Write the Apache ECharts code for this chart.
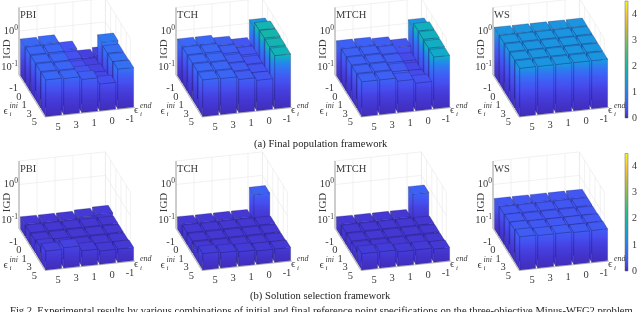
<!DOCTYPE html>
<html><head><meta charset="utf-8">
<style>html,body{margin:0;padding:0;background:#fff}#c{width:640px;height:312px}</style>
<script src="https://cdn.jsdelivr.net/npm/echarts@6/dist/echarts.min.js"></script>
</head><body><div id="c"></div>
<script>
// rows: ini = -1,0,1,3,5 (back to front); columns: end = 5,3,1,0,-1 (left to right)
const iniTicks = ['-1','0','1','3','5'];
const endTicks = ['5','3','1','0','-1'];
const methods = ['PBI','TCH','MTCH','WS'];
const captionA = '(a) Final population framework';
const captionB = '(b) Solution selection framework';
const captionFig = 'Fig 2. Experimental results by various combinations of initial and final reference point specifications on the three-objective Minus-WFG2 problem.';

const PBI_final = [
 [.62,.64,.38,.20,.22],
 [.62,.62,.35,.20,.85],
 [.62,.60,.33,.23,.72],
 [.62,.60,.40,.25,.72],
 [.62,.60,.50,.33,.76]];
const TCH_final = [
 [.62,.62,.52,.42,1.3],
 [.62,.62,.52,.42,1.85],
 [.62,.60,.50,.40,1.9],
 [.62,.60,.50,.40,1.85],
 [.62,.60,.50,.42,1.8]];
const MTCH_final = [
 [.55,.55,.50,.40,1.3],
 [.55,.55,.50,.28,1.75],
 [.55,.55,.50,.26,1.75],
 [.55,.55,.48,.28,1.7],
 [.55,.55,.45,.35,1.65]];
const WS_final = [
 [1.3,1.3,1.3,1.3,1.3],
 [1.3,1.3,1.3,1.3,1.3],
 [1.3,1.3,1.3,1.3,1.3],
 [1.3,1.3,1.3,1.3,1.3],
 [1.3,1.3,1.3,1.3,1.3]];
const PBI_select = [
 [.13,.13,.13,.14,.15],
 [.13,.13,.13,.13,.13],
 [.13,.13,.13,.13,.13],
 [.15,.14,.13,.13,.13],
 [.20,.22,.16,.14,.14]];
const TCH_select = [
 [.13,.13,.13,.13,.53],
 [.13,.13,.13,.13,.13],
 [.13,.13,.13,.13,.13],
 [.13,.13,.13,.13,.13],
 [.17,.16,.15,.14,.14]];
const MTCH_select = [
 [.13,.13,.13,.13,.55],
 [.13,.13,.13,.13,.13],
 [.13,.13,.13,.13,.13],
 [.13,.13,.13,.13,.13],
 [.17,.17,.15,.15,.14]];
const WS_select = [
 [.42,.42,.42,.42,.42],
 [.42,.42,.42,.42,.42],
 [.44,.42,.42,.42,.42],
 [.46,.44,.44,.44,.44],
 [.50,.48,.48,.46,.46]];
const tables = [PBI_final,TCH_final,MTCH_final,WS_final,PBI_select,TCH_select,MTCH_select,WS_select];

// parula anchor colours sampled along the colour bar
const parulaAt = [0,.03,.07,.14,.25,.36,.44,.55,.65,.75,.875,1];
const parula = [[62,38,168],[68,56,212],[70,78,240],[58,104,245],[34,138,235],[16,170,205],[22,186,160],[70,190,125],[130,190,90],[190,188,60],[250,195,50],[249,251,21]];
const VMAX = 4.5, Z0 = 0.06;
function col(v){
  const t = Math.max(0,Math.min(1,v/VMAX));
  let i=0; while(i<parula.length-2 && t>parulaAt[i+1]) i++;
  const f=(t-parulaAt[i])/(parulaAt[i+1]-parulaAt[i]);
  const a = parula[i], b = parula[i+1];
  return 'rgb('+a.map((x,k)=>Math.round(x+(b[k]-x)*f)).join(',')+')';
}
// oblique view of the box
const ORIGIN=[19,75], EX=[18,-1.9], EY=[5.2,8.4], DEC=36;
function proj(r,c,v){
  const h = (Math.log10(v)-Math.log10(Z0))*DEC;
  return [ORIGIN[0]+c*EX[0]+r*EY[0], ORIGIN[1]+c*EX[1]+r*EY[1]-h];
}
const PX=[0,157,316,474], PY=[0,153.5];
const FONT='Liberation Serif';
const INK='#3a3a3a';

function barItem(params, api){
  const r=api.value(0), c=api.value(1), v=api.value(2);
  const S=(a,b,z)=>api.coord(proj(a,b,z));
  const r0=r+.06,r1=r+.94,c0=c+.06,c1=c+.94;
  const grad=(y0,y1)=>{
    const stops=[];
    for(let i=0;i<=12;i++){const t=i/12;stops.push({offset:t,color:col(Z0*Math.pow(v/Z0,t))});}
    return new echarts.graphic.LinearGradient(0,y0,0,y1,stops,true);
  };
  const edge={stroke:'rgba(25,25,80,.42)',lineWidth:.6};
  const poly=(pts,fill)=>({type:'polygon',shape:{points:pts},style:Object.assign({fill},edge)});
  const a=S(r0,c0,Z0),b=S(r1,c0,Z0),d=S(r1,c1,Z0);
  const at=S(r0,c0,v),bt=S(r1,c0,v),dt=S(r1,c1,v),et=S(r0,c1,v);
  return {type:'group',children:[
    poly([a,b,bt,at],grad(b[1],bt[1])),
    poly([b,d,dt,bt],grad(b[1],bt[1])),
    poly([at,bt,dt,et],col(v))
  ]};
}

function frameItem(name){
  return function(params, api){
    const S=(a,b,z)=>api.coord(proj(a,b,z));
    const ch=[];
    const ln=(p,q,color,w)=>ch.push({type:'line',shape:{x1:p[0],y1:p[1],x2:q[0],y2:q[1]},style:{stroke:color,lineWidth:w||.6}});
    const txt=(p,dx,dy,t,o)=>ch.push({type:'text',style:Object.assign({x:p[0]+dx,y:p[1]+dy,text:t,font:'10.5px "'+FONT+'"',fill:INK,align:'center',verticalAlign:'middle'},o||{})});
    const G='#e8e8e8', ZT=VMAX, CM=4.8, RM=4.8;
    // back wall and right wall grid
    [0,1,2,3,4,CM].forEach(c=>ln(S(0,c,Z0),S(0,c,ZT),G));
    [0,1,2,3,4,RM].forEach(r=>ln(S(r,CM,Z0),S(r,CM,ZT),G));
    [.1,1,ZT].forEach(z=>{ln(S(0,0,z),S(0,CM,z),G);ln(S(0,CM,z),S(RM,CM,z),G);});
    // floor edges and vertical axis
    ln(S(0,0,Z0),S(0,0,ZT),'#8a8a8a',.8);
    ln(S(0,0,Z0),S(5,0,Z0),'#999',.7);
    ln(S(5,0,Z0),S(5,5,Z0),'#999',.7);
    // z ticks
    const rich={a:{font:'10.5px "'+FONT+'"',fill:INK},b:{font:'7.5px "'+FONT+'"',fill:INK,verticalAlign:'top',padding:[0,0,6,0]}};
    const t0=S(0,0,1), t1=S(0,0,.1);
    ch.push({type:'text',style:{x:t0[0]-1,y:t0[1],text:'{a|10}{b|0}',align:'right',verticalAlign:'middle',rich}});
    ch.push({type:'text',style:{x:t1[0]-1,y:t1[1],text:'{a|10}{b|-1}',align:'right',verticalAlign:'middle',rich}});
    const o=S(0,0,Z0);
    ch.push({type:'text',x:o[0]-12,y:o[1]-26,rotation:Math.PI/2,style:{x:0,y:0,text:'IGD',font:'11px "'+FONT+'"',fill:INK,align:'center',verticalAlign:'middle'}});
    txt(S(0,0,ZT),1,8,name,{align:'left'});
    // category ticks
    iniTicks.forEach((t,r)=>txt(S(r+.5,0,Z0),-8,9.5,t));
    endTicks.forEach((t,c)=>txt(S(5,c+.5,Z0),4,11,t));
    // axis names
    const f=S(3,0,Z0);
    const add=(b,x,y,t,s,it)=>ch.push({type:'text',style:{x:b[0]+x,y:b[1]+y,text:t,font:(it?'italic ':'')+s+'px "'+FONT+'"',fill:INK,align:'left',verticalAlign:'middle'}});
    add(f,-31,11,'\u03f5',11);add(f,-25,14,'i',7,true);add(f,-25,6,'ini',8,true);
    const g=S(5,5,Z0);
    add(g,-1,3,'\u03f5',11);add(g,5,7,'i',7,true);add(g,5,-2,'end',8,true);
    return {type:'group',children:ch};
  };
}

const grid=[],xAxis=[],yAxis=[],series=[];
tables.forEach((tb,k)=>{
  const col4=k%4,row=k<4?0:1;
  grid.push({left:PX[col4],top:PY[row],width:160,height:140});
  xAxis.push({gridIndex:k,type:'value',min:0,max:160,show:false});
  yAxis.push({gridIndex:k,type:'value',min:0,max:140,inverse:true,show:false});
  series.push({type:'custom',xAxisIndex:k,yAxisIndex:k,coordinateSystem:'cartesian2d',silent:true,clip:false,animation:false,
    data:[[0]],renderItem:frameItem(methods[col4]),encode:{x:0,y:0}});
  const d=[];
  for(let r=0;r<5;r++)for(let c=4;c>=0;c--)d.push([r,c,tb[r][c]]);
  series.push({type:'custom',xAxisIndex:k,yAxisIndex:k,coordinateSystem:'cartesian2d',silent:true,clip:false,animation:false,
    data:d,renderItem:barItem,encode:{x:0,y:1}});
});
// colour bars
[{top:1,h:117},{top:153.5,h:117.5}].forEach((b,n)=>{
  const k=grid.length;
  grid.push({left:625,top:b.top,width:7,height:b.h});
  xAxis.push({gridIndex:k,type:'value',min:0,max:1,show:false});
  yAxis.push({gridIndex:k,type:'value',min:0,max:VMAX,interval:1,position:'right',
    axisLine:{show:false},splitLine:{show:false},axisTick:{show:false},
    axisLabel:{showMaxLabel:false,margin:4,fontFamily:FONT,fontSize:10,color:INK}});
  series.push({type:'custom',xAxisIndex:k,yAxisIndex:k,silent:true,animation:false,clip:false,
    data:[[0,0,1,VMAX]],encode:{x:[0,2],y:[1,3]},
    renderItem(p,api){
      const a=api.coord([0,0]),c=api.coord([1,VMAX]);
      const stops=[];for(let i=0;i<=24;i++)stops.push({offset:i/24,color:col(VMAX*(1-i/24))});
      return {type:'rect',shape:{x:a[0],y:c[1],width:c[0]-a[0],height:a[1]-c[1]},
        style:{fill:new echarts.graphic.LinearGradient(0,0,0,1,stops),stroke:'#666',lineWidth:.5}};
    }});
});
const capt=(t,x,y,s)=>({type:'text',left:x,top:y,silent:true,style:{text:t,font:s+'px "'+FONT+'"',fill:'#222'}});
const chart=echarts.init(document.getElementById('c'),null,{renderer:'canvas'});
chart.setOption({animation:false,backgroundColor:'#fff',grid,xAxis,yAxis,series,
  graphic:[capt(captionA,254,139,10.6),capt(captionB,250,291,10.6),capt(captionFig,10,306,10.6)]});
</script></body></html>
